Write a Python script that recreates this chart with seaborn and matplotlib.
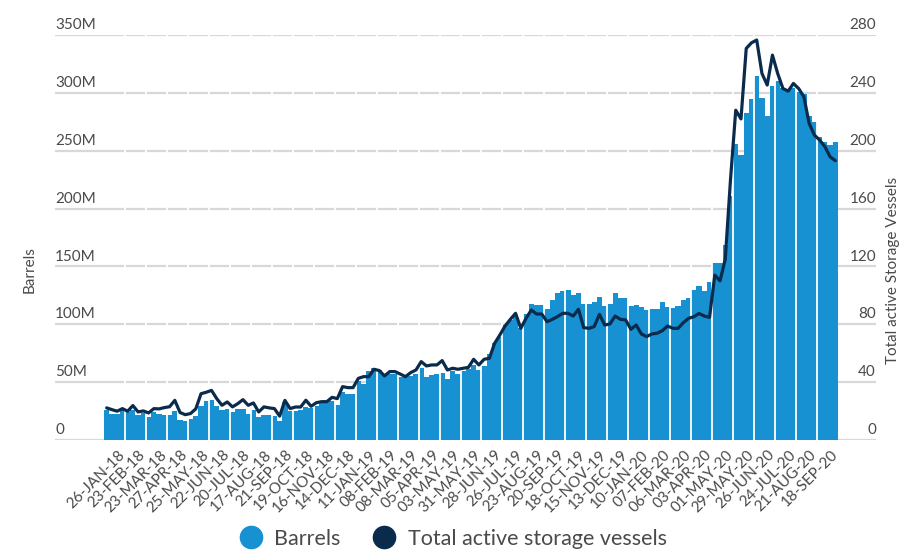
import matplotlib
matplotlib.use("Agg")
import matplotlib.pyplot as plt
from matplotlib.lines import Line2D
import matplotlib.transforms as mtransforms
import seaborn as sns
import numpy as np

# weekly barrels held in floating storage, millions
barrels = [
    25.7, 22.6, 22.6, 25.5,   24.6, 25.5, 21.7, 23.4,   20.0, 24.3, 22.3, 21.4,
    21.4, 25.1, 17.7, 16.6,   18.3, 20.6, 29.1, 33.4,   34.3, 29.1, 26.3, 26.9,
    24.3, 26.6, 26.6, 22.3,   25.7, 20.0, 21.4, 21.4,   20.6, 16.6, 32.9, 25.1,
    25.3, 26.0, 28.5, 27.4,   29.4, 32.8, 32.8, 34.0,   30.2, 41.5, 39.7, 39.7,
    50.7, 48.4, 60.0, 62.0,   60.5, 57.0, 57.0, 57.0,   54.1, 54.7, 55.6, 57.0,
    62.2, 54.1, 55.9, 57.0,   57.6, 52.4, 60.0, 57.0,   60.0, 61.0, 64.8, 60.5,
    64.0, 74.3, 84.0, 88.7,   99.0, 104.0, 108.0, 96.5, 109.0, 117.5, 116.6, 116.6,
    113.0, 121.0, 126.7, 128.7, 129.6, 125.3, 126.7, 117.5, 117.5, 119.0, 123.3, 115.8,
    117.5, 126.7, 122.4, 122.4, 115.8, 116.6, 114.6, 112.3, 113.0, 113.0, 119.0, 114.6,
    114.0, 116.0, 121.0, 123.0, 129.6, 133.0, 129.0, 136.5, 153.0, 153.0, 168.5, 211.0,
    255.7, 246.0, 282.8, 294.6, 314.5, 295.2, 280.0, 305.9, 310.0, 304.4, 302.4, 303.8,
    301.0, 299.0, 280.0, 274.5, 261.5, 257.2, 254.9, 257.5,
]

# total active storage vessels
vessels = [
    22.2, 21.0, 19.9, 21.7,   19.9, 23.8, 19.4, 20.1,   18.7, 21.7, 21.5, 22.4,
    23.0, 27.4, 19.0, 17.5,   18.3, 21.5, 32.0, 33.0,   34.3, 28.6, 24.0, 26.3,
    22.9, 25.1, 27.9, 24.0,   25.6, 19.4, 22.9, 22.2,   21.7, 16.5, 27.4, 21.7,
    22.8, 22.8, 27.5, 23.3,   25.8, 26.5, 26.5, 29.5,   28.6, 36.9, 36.2, 36.2,
    42.6, 43.8, 43.8, 48.9,   48.0, 44.3, 47.3, 47.3,   45.6, 43.8, 46.6, 48.4,
    54.2, 51.2, 51.9, 51.9,   54.9, 48.4, 49.6, 48.9,   49.6, 50.2, 55.8, 51.9,
    55.8, 56.5, 66.8, 72.6,   78.8, 83.4, 87.6, 77.2,   84.1, 89.9, 87.1, 87.1,
    81.8, 83.4, 85.3, 87.6,   87.6, 85.7, 90.4, 77.7,   77.2, 78.4, 86.9, 79.5,
    80.2, 85.7, 83.4, 83.0,   76.5, 79.5, 73.3, 71.5,   73.3, 73.8, 75.6, 78.8,
    77.2, 77.2, 81.1, 84.1,   85.2, 87.5, 85.7, 84.8,   114.0, 110.0, 125.0, 180.0,
    228.0, 222.0, 270.7, 274.6, 276.5, 253.4, 245.4, 266.1, 253.4, 243.0, 241.2, 246.5,
    243.0, 237.3, 218.9, 210.8, 207.4, 202.8, 195.8, 193.1,
]

tick_labels = [
    "26-JAN-18", "23-FEB-18", "23-MAR-18", "27-APR-18", "25-MAY-18", "22-JUN-18",
    "20-JUL-18", "17-AUG-18", "21-SEP-18", "19-OCT-18", "16-NOV-18", "14-DEC-18",
    "11-JAN-19", "08-FEB-19", "08-MAR-19", "05-APR-19", "03-MAY-19", "31-MAY-19",
    "28-JUN-19", "26-JUL-19", "23-AUG-19", "20-SEP-19", "18-OCT-19", "15-NOV-19",
    "13-DEC-19", "10-JAN-20", "07-FEB-20", "06-MAR-20", "03-APR-20", "01-MAY-20",
    "29-MAY-20", "26-JUN-20", "24-JUL-20", "21-AUG-20", "18-SEP-20",
]

left_ticks = [0, 50, 100, 150, 200, 250, 300, 350]
right_ticks = [0, 40, 80, 120, 160, 200, 240, 280]

BAR = "#1791d1"
LINE = "#0b2b4c"
GRID = "#d8d8d8"
TXT = "#4a4a4a"

sns.set_style("white")
plt.rcParams["font.family"] = ["Lato", "DejaVu Sans"]

idx = np.arange(len(barrels))
fig = plt.figure(figsize=(9.14, 5.52), dpi=100)
ax = fig.add_axes([0.0602, 0.2029, 0.8982, 0.7337])

sns.barplot(x=idx, y=barrels, native_scale=True, width=1.0, color=BAR,
            saturation=1, linewidth=0, ax=ax, zorder=2)

# white separators between 4-week groups
for b in idx[3:-1:4]:
    ax.axvline(b + 0.5, color="white", lw=1.3, zorder=3)

ax.set_xlim(-9.85, 146.75)
ax.set_ylim(0, 350)
for v in left_ticks:
    ax.axhline(v, color=GRID, lw=1.6, ls="-", zorder=1)

trans_l = mtransforms.blended_transform_factory(ax.transAxes, ax.transData)
for v in left_ticks:
    lab = "0" if v == 0 else f"{v}M"
    ax.text(0.0, v + 2.5, lab, transform=trans_l, ha="left", va="bottom",
            fontsize=11, color=TXT)
for v in right_ticks:
    ax.text(1.0, v * 350 / 280 + 2.5, str(v), transform=trans_l, ha="right",
            va="bottom", fontsize=11, color=TXT)

ax2 = ax.twinx()
sns.lineplot(x=idx, y=vessels, color=LINE, lw=2.3, ax=ax2, zorder=4)
ax2.set_ylim(0, 280)
ax2.set_yticks([])

ax.set_yticks([])
ax.set_xticks(idx[3::4])
ax.set_xticklabels(tick_labels, rotation=45, ha="right", va="center",
                   rotation_mode="anchor", fontsize=11, color=TXT)
ax.tick_params(axis="x", length=0, pad=9)
ax.set_xlabel("")
ax.set_ylabel("")
for a in (ax, ax2):
    for s in a.spines.values():
        s.set_visible(False)

fig.text(30 / 914, 1 - 270 / 552, "Barrels", rotation=90, ha="center",
         va="center", fontsize=11, color=TXT)
fig.text(893 / 914, 1 - 270 / 552, "Total active Storage Vessels", rotation=90,
         ha="center", va="center", fontsize=11, color=TXT)

handles = [
    Line2D([], [], marker="o", ls="", color=BAR, markersize=16),
    Line2D([], [], marker="o", ls="", color=LINE, markersize=16),
]
fig.legend(handles, ["Barrels", "Total active storage vessels"], loc="center",
           bbox_to_anchor=(0.49, 1 - 539 / 552), ncol=2, frameon=False,
           fontsize=15.5, labelcolor=TXT, handletextpad=0.1, columnspacing=1.0)

fig.savefig("out.png", dpi=100)
